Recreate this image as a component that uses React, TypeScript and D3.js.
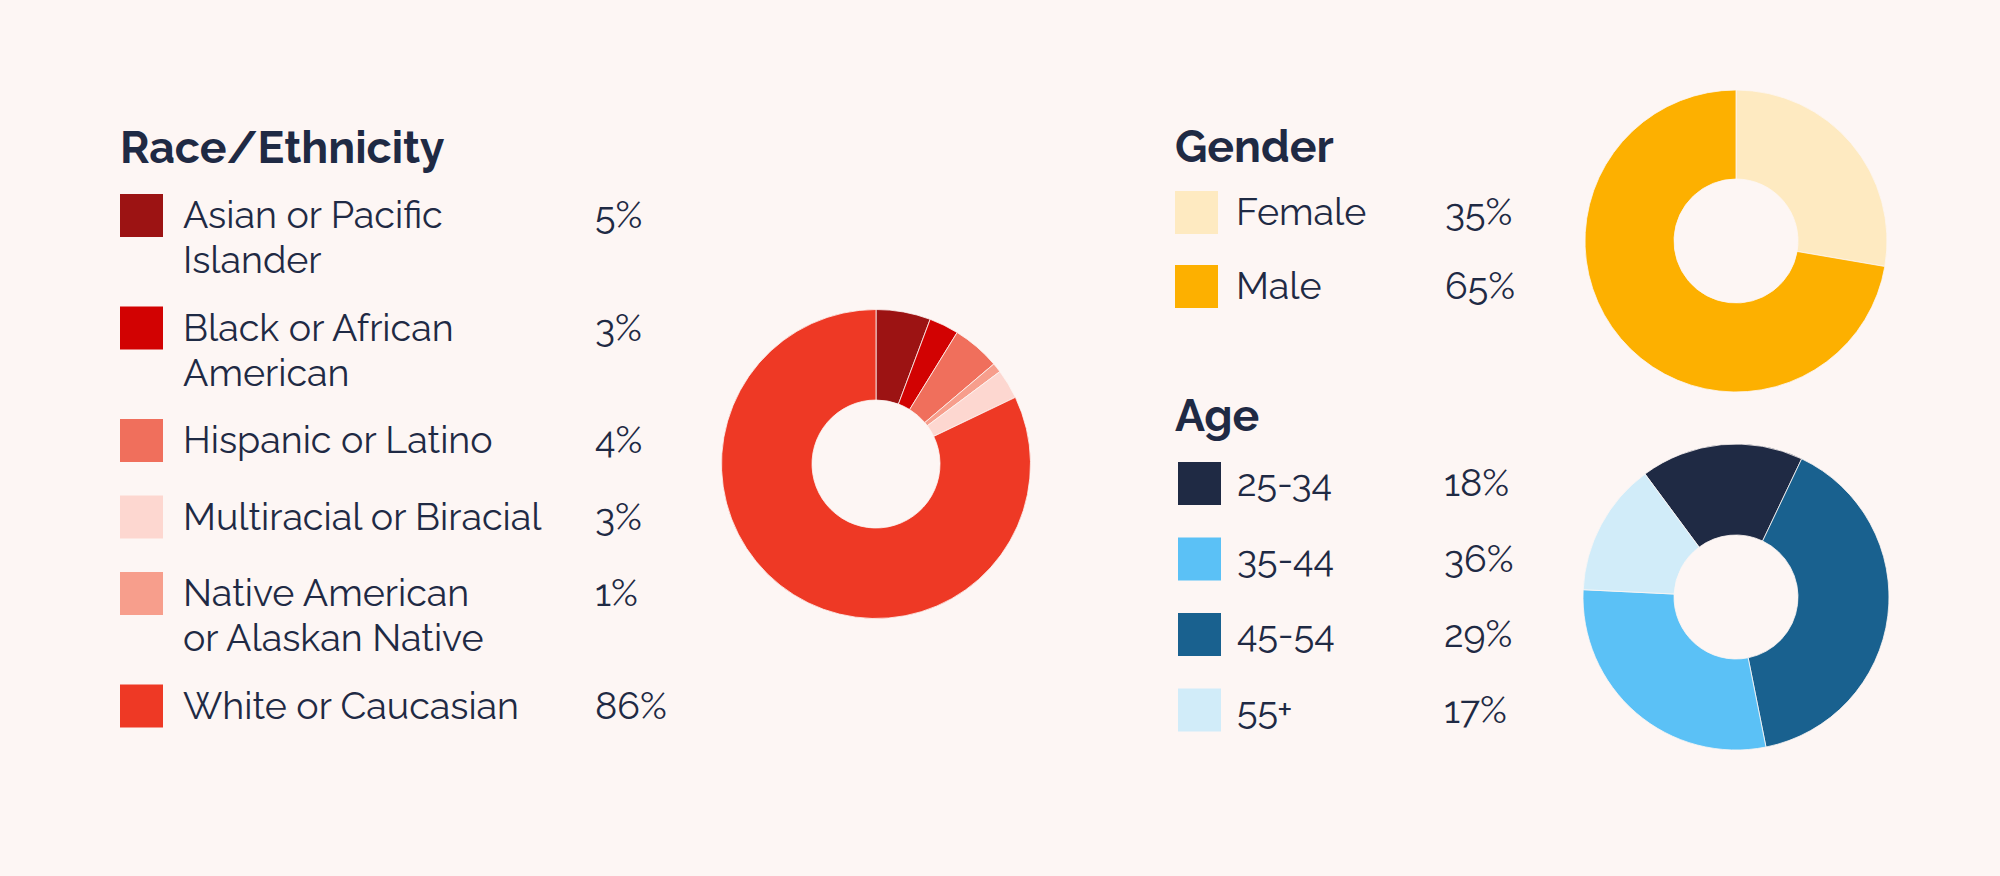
import React, { useEffect, useRef } from 'react';
import * as d3 from 'd3';

// legend rows (label lines, printed share, swatch colour)
const raceLabels = [
  ['Asian or Pacific', 'Islander'],
  ['Black or African', 'American'],
  ['Hispanic or Latino'],
  ['Multiracial or Biracial'],
  ['Native American', 'or Alaskan Native'],
  ['White or Caucasian'],
];
const racePercents = ['5%', '3%', '4%', '3%', '1%', '86%'];
const raceColors = ['#9c1313', '#d20202', '#f06f5c', '#fdd7d0', '#f79e8c', '#ee3925'];

const genderLabels = ['Female', 'Male'];
const genderPercents = ['35%', '65%'];
const genderColors = ['#feeac1', '#fdb000'];

const ageLabels = ['25-34', '35-44', '45-54', '55+'];
const agePercents = ['18%', '36%', '29%', '17%'];
const ageColors = ['#1f2a44', '#5bc1f6', '#19618f', '#d1ecf9'];

// donut slices as drawn (share of circle, clockwise)
const raceSliceColors = ['#9c1313', '#d20202', '#f06f5c', '#f79e8c', '#fdd7d0', '#ee3925'];
const raceSlices = [5.7, 3.1, 5.0, 1.0, 3.1, 82.1];

const genderSliceColors = ['#feeac1', '#fdb000'];
const genderSlices = [27.7, 72.3];

const ageSliceColors = ['#1f2a44', '#19618f', '#5bc1f6', '#d1ecf9'];
const ageSlices = [17.2, 39.8, 28.9, 14.1];

const BG = '#fdf6f4';
const INK = '#1f2a44';
const FONT = 'Raleway, Lato, "Open Sans", sans-serif';

export default function App() {
  const svgRef = useRef<SVGSVGElement>(null);

  useEffect(() => {
    if (!svgRef.current) return;
    document.body.style.margin = '0';
    document.body.style.background = BG;

    const svg = d3.select(svgRef.current);
    svg.selectAll('*').remove();

    svg.append('rect').attr('width', 2000).attr('height', 876).attr('fill', BG);

    const drawDonut = (
      values: number[],
      colors: string[],
      cx: number,
      cy: number,
      outer: number,
      inner: number,
      start: number
    ) => {
      const pie = d3.pie<number>()
        .sort(null)
        .value(d => d)
        .startAngle(start)
        .endAngle(start + Math.PI * 2);
      const arc = d3.arc<d3.PieArcDatum<number>>()
        .innerRadius(inner)
        .outerRadius(outer);
      const g = svg.append('g').attr('transform', `translate(${cx},${cy})`);
      g.selectAll('path')
        .data(pie(values))
        .enter()
        .append('path')
        .attr('d', arc)
        .attr('fill', (_, i) => colors[i])
        .attr('stroke', BG)
        .attr('stroke-width', 0.8);
    };

    const drawTitle = (text: string, x: number, y: number) => {
      svg.append('text')
        .attr('x', x)
        .attr('y', y)
        .attr('fill', INK)
        .style('font-family', FONT)
        .style('font-weight', 700)
        .style('font-size', '44.6px')
        .text(text);
    };

    const drawLegend = (
      labels: string[][],
      percents: string[],
      colors: string[],
      tops: number[],
      swatchX: number,
      labelX: number,
      pctX: number
    ) => {
      const rows = svg.append('g')
        .selectAll('g')
        .data(labels)
        .enter()
        .append('g')
        .attr('transform', (_, i) => `translate(0,${tops[i]})`);

      rows.append('rect')
        .attr('x', swatchX)
        .attr('y', 0)
        .attr('width', 43)
        .attr('height', 43)
        .attr('fill', (_, i) => colors[i]);

      rows.append('text')
        .attr('x', labelX)
        .attr('y', 34)
        .attr('fill', INK)
        .style('font-family', FONT)
        .style('font-weight', 400)
        .style('font-size', '37.6px')
        .style('font-variant-numeric', 'oldstyle-nums')
        .selectAll('tspan')
        .data(d => d)
        .enter()
        .append('tspan')
        .attr('x', labelX)
        .attr('dy', (_, j) => (j === 0 ? 0 : 45))
        .text(d => d);

      rows.append('text')
        .attr('x', pctX)
        .attr('y', 34)
        .attr('fill', INK)
        .style('font-family', FONT)
        .style('font-weight', 400)
        .style('font-size', '37.6px')
        .style('font-variant-numeric', 'oldstyle-nums')
        .text((_, i) => percents[i]);
    };

    // Race / Ethnicity
    drawTitle('Race/Ethnicity', 120, 163);
    const raceTops: number[] = [];
    let top = 194;
    raceLabels.forEach(l => {
      raceTops.push(top);
      top += 76.5 + 36 * (l.length - 1);
    });
    drawLegend(raceLabels, racePercents, raceColors, raceTops, 120, 183, 595);
    drawDonut(raceSlices, raceSliceColors, 876, 464, 154.5, 64, 0);

    // Gender
    drawTitle('Gender', 1175, 162);
    drawLegend(genderLabels.map(d => [d]), genderPercents, genderColors, [191, 265], 1175, 1236, 1445);
    drawDonut(genderSlices, genderSliceColors, 1736, 241, 151, 62, 0);

    // Age
    drawTitle('Age', 1175, 431);
    drawLegend(ageLabels.map(d => [d]), agePercents, ageColors, [462, 537.5, 613, 688.5], 1178, 1237, 1444);
    drawDonut(ageSlices, ageSliceColors, 1736, 597, 153, 62, (-36.5 * Math.PI) / 180);
  }, []);

  return (
    <div>
      <svg ref={svgRef} width={2000} height={876} style={{ display: 'block' }}></svg>
    </div>
  );
}
